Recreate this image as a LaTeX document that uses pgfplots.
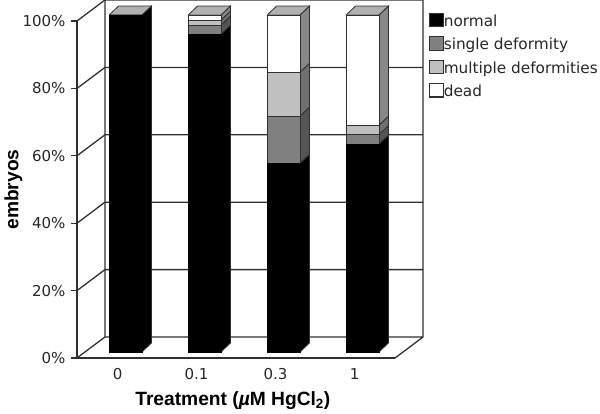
\documentclass[border=0pt]{standalone}
\usepackage{pgfplots}
\pgfplotsset{compat=1.18}
\usepackage{fontspec}
\setmainfont{DejaVu Sans}
\newfontfamily\lib{Liberation Sans}
\pgfplotstableread{
pos normal single multiple dead
0 100 0 0 0
1 94.3 2.7 1.5 1.5
2 56 14 13 17
3 61.7 2.8 2.8 32.7
}\bardata
\definecolor{cN}{HTML}{000000}
\definecolor{cS}{HTML}{808080}
\definecolor{cM}{HTML}{C0C0C0}
\definecolor{cD}{HTML}{FFFFFF}
\definecolor{ln}{HTML}{303030}
\definecolor{sS}{HTML}{555555}
\definecolor{sM}{HTML}{707070}
\definecolor{sD}{HTML}{888888}
\definecolor{cT}{HTML}{B0B0B0}
\newcommand\dx{0.12}
\newcommand\dy{2.67}
\newcommand\hw{0.208}
\newcommand\side[4]{% colour, position, from, to
  \pgfmathsetmacro\xa{#2+\hw}\pgfmathsetmacro\xb{#2+\hw+\dx}%
  \pgfmathsetmacro\ya{#3+\dy}\pgfmathsetmacro\yb{#4+\dy}%
  \edef\tmp{\noexpand\addplot[fill=#1,draw=ln,line width=0.8pt,xshift=8pt,yshift=6pt] coordinates {(\xa,#3)(\xb,\ya)(\xb,\yb)(\xa,#4)(\xa,#3)};}\tmp}
\newcommand\topf[2]{% position, height
  \pgfmathsetmacro\xa{#1-\hw}\pgfmathsetmacro\xb{#1+\hw}%
  \pgfmathsetmacro\xc{#1+\hw+\dx}\pgfmathsetmacro\xd{#1-\hw+\dx}\pgfmathsetmacro\yb{#2+\dy}%
  \edef\tmp{\noexpand\addplot[fill=cT,draw=ln,line width=0.8pt,xshift=8pt,yshift=6pt] coordinates {(\xa,#2)(\xb,#2)(\xc,\yb)(\xd,\yb)(\xa,#2)};}\tmp}
\pgfplotsset{common/.style={
  x=79pt,y=3.37pt,xmin=-0.513,xmax=3.513,ymin=0,ymax=100,
  at={(77pt,55pt)},anchor=south west,clip=false}}
\begin{document}
\begin{tikzpicture}[x=1pt,y=1pt]
\path[use as bounding box] (0,0) rectangle (600,413);
% walls, gridlines and side faces
\begin{axis}[common,
  axis lines=left,axis line style={-,draw=ln,line width=1.3pt},
  xtick={0,1,2,3},xticklabels={0,0.1,0.3,1},
  ytick={0,20,40,60,80,100},yticklabels={0\%,20\%,40\%,60\%,80\%,100\%},
  tick style={draw=ln,line width=1.3pt},
  xtick style={draw=none},
  ytick style={draw=ln},
  tick align=outside,major tick length=6pt,
  tick label style={font=\fontsize{15}{18}\selectfont,text=black!85},
  xticklabel style={yshift=-4.5pt,text height=11pt,text depth=0pt,inner ysep=0pt},
  yticklabel style={xshift=-2pt},
  xlabel={\lib\bfseries\fontsize{19.2}{22}\selectfont Treatment ({\itshape µ}M HgCl\textsubscript{2})},
  xlabel style={at={(axis description cs:0.49,0)},anchor=north,yshift=-30pt},
  ylabel={\lib\bfseries\fontsize{19.2}{22}\selectfont embryos},
  ylabel style={at={(axis description cs:-0.2,0.5)},anchor=center},
]
% floor and back wall
\addplot[draw=ln,line width=1.3pt] coordinates {(3.513,0)(3.867,6.23)(3.867,106.23)(-0.159,106.23)(-0.159,6.23)(3.867,6.23)};
\addplot[draw=ln,line width=1.3pt] coordinates {(-0.513,0)(-0.159,6.23)};
\addplot[draw=ln,line width=1.3pt] coordinates {(-0.513,20)(-0.159,26.23)(3.867,26.23)};
\addplot[draw=ln,line width=1.3pt] coordinates {(-0.513,40)(-0.159,46.23)(3.867,46.23)};
\addplot[draw=ln,line width=1.3pt] coordinates {(-0.513,60)(-0.159,66.23)(3.867,66.23)};
\addplot[draw=ln,line width=1.3pt] coordinates {(-0.513,80)(-0.159,86.23)(3.867,86.23)};
\addplot[draw=ln,line width=1.3pt] coordinates {(-0.513,100)(-0.159,106.23)};
% side faces
\side{black}{0}{0}{100}
\topf{0}{100}
\side{black}{1}{0}{94.3}
\side{sS}{1}{94.3}{97}
\side{sM}{1}{97}{98.5}
\side{sD}{1}{98.5}{100}
\topf{1}{100}
\side{black}{2}{0}{56}
\side{sS}{2}{56}{70}
\side{sM}{2}{70}{83}
\side{sD}{2}{83}{100}
\topf{2}{100}
\side{black}{3}{0}{61.7}
\side{sS}{3}{61.7}{64.5}
\side{sM}{3}{64.5}{67.3}
\side{sD}{3}{67.3}{100}
\topf{3}{100}
\end{axis}
% front faces
\begin{axis}[common,hide axis,
  ybar stacked,bar width=33pt,bar shift=0pt,
  legend style={at={(352pt,346pt)},anchor=north west,draw=none,fill=none,
    font=\fontsize{15.3}{18}\selectfont,text=black!85,
    row sep=5.4pt,inner sep=0pt,legend cell align=left,
    nodes={minimum height=18pt,inner sep=0pt,anchor=base west},
    /tikz/every even column/.append style={column sep=4.5pt}},
  legend image code/.code={\draw[#1,draw=ln,line width=1.1pt] (0pt,-6.5pt) rectangle (13.5pt,7pt);},
]
\addplot[fill=cN,draw=cN,xshift=8pt,yshift=6pt] table[x=pos,y=normal]{\bardata};
\addplot[fill=cS,draw=ln,line width=0.8pt,xshift=8pt,yshift=6pt] table[x=pos,y=single]{\bardata};
\addplot[fill=cM,draw=ln,line width=0.8pt,xshift=8pt,yshift=6pt] table[x=pos,y=multiple]{\bardata};
\addplot[fill=cD,draw=ln,line width=0.8pt,xshift=8pt,yshift=6pt] table[x=pos,y=dead]{\bardata};
\legend{normal,single deformity,multiple deformities,dead}
\end{axis}
\end{tikzpicture}
\end{document}
